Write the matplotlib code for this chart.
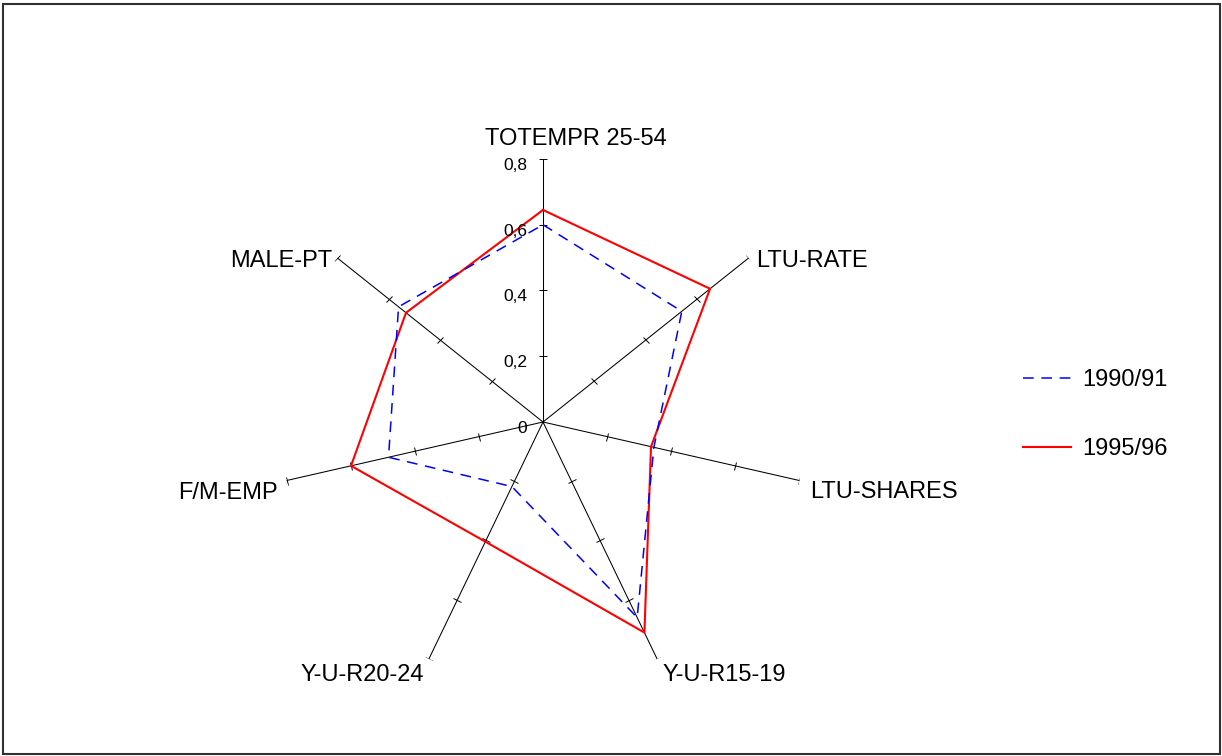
import numpy as np
import matplotlib
matplotlib.use("Agg")
import matplotlib.pyplot as plt
from matplotlib.markers import MarkerStyle
from matplotlib.transforms import Affine2D
from matplotlib.patches import Rectangle

plt.rcParams["font.family"] = ["Liberation Sans", "DejaVu Sans"]

# data
categories = ["TOTEMPR 25-54", "LTU-RATE", "LTU-SHARES", "Y-U-R15-19",
              "Y-U-R20-24", "F/M-EMP", "MALE-PT"]
vals_1990 = [0.60, 0.54, 0.346, 0.66, 0.218, 0.482, 0.562]
vals_1995 = [0.645, 0.65, 0.337, 0.711, 0.404, 0.599, 0.533]
series_names = ["1990/91", "1995/96"]
tick_values = [0, 0.2, 0.4, 0.6, 0.8]
tick_labels = ["0", "0,2", "0,4", "0,6", "0,8"]
r_max = 0.8

# label offsets in pixels from the end of each spoke (x, y, ha)
label_offsets = [(33, 14, "center"), (8, -9, "left"), (11, -17, "left"),
                 (5, -22, "left"), (-5, -22, "right"), (-9, -18, "right"),
                 (-5, -9, "right")]

fig = plt.figure(figsize=(12.22, 7.56), dpi=100)
ax = fig.add_axes([(543 - 263) / 1222, (756 - 422 - 263) / 756, 526 / 1222, 526 / 756],
                  projection="polar")
ax.set_theta_offset(np.pi / 2)
ax.set_theta_direction(-1)
ax.set_ylim(0, r_max)
ax.axis("off")

n = len(categories)
angles = np.arange(n) * 2 * np.pi / n

# spokes with small crossing ticks
for i, t in enumerate(angles):
    ax.plot([t, t], [0, r_max], color="black", lw=0.75, zorder=1)
    phi = 90 - np.degrees(t)
    m = MarkerStyle("|", transform=Affine2D().rotate_deg(phi))
    ax.plot([t] * (len(tick_values) - 1), tick_values[1:], ls="none",
            marker=m, ms=6, mew=0.7, color="black", zorder=1)
    dx, dy, ha = label_offsets[i]
    ax.annotate(categories[i], xy=(t, r_max), xytext=(dx, dy),
                textcoords="offset pixels", ha=ha, va="baseline",
                fontsize=17, annotation_clip=False)

for v, lab in zip(tick_values, tick_labels):
    ax.annotate(lab, xy=(0, v), xytext=(-16, -11), textcoords="offset pixels",
                ha="right", va="baseline", fontsize=12.5, annotation_clip=False)

ang_closed = np.append(angles, angles[0])
l1, = ax.plot(ang_closed, vals_1990 + vals_1990[:1], color="#0000FF", lw=1.1,
              dashes=(7, 5), zorder=3)
l2, = ax.plot(ang_closed, vals_1995 + vals_1995[:1], color="#FF0000", lw=1.5,
              zorder=2)

fig.legend([l1, l2], series_names, loc="upper left",
           bbox_to_anchor=(1023 / 1222, 1 - 369 / 756), frameon=False,
           fontsize=17, handlelength=2.05, handletextpad=0.45,
           labelspacing=2.0, borderpad=0, borderaxespad=0)

fig.add_artist(Rectangle((3 / 1222, 2 / 756), 1217 / 1222, 750 / 756,
                         transform=fig.transFigure, fill=False,
                         edgecolor="#303030", lw=1.5))

fig.savefig("out.png", dpi=100)
